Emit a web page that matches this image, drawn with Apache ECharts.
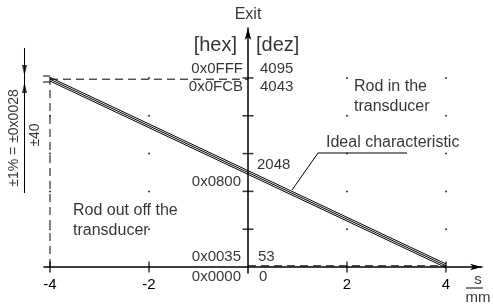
<!DOCTYPE html>
<html>
<head>
<meta charset="utf-8">
<script src="https://cdn.jsdelivr.net/npm/echarts@6/dist/echarts.min.js"></script>
<style>
  html, body { margin: 0; padding: 0; background: #fff; }
  #chart { width: 493px; height: 306px; }
</style>
</head>
<body>
<div id="chart"></div>
<script>
// travel s in mm vs. output value (0..4095)
const strokeS = [-4, 4];
const idealOut = [4069, 26];
const upperOut = [4109, 66];
const lowerOut = [4029, -14];
const xTicks = [-4, -2, 2, 4];
const yTicks = [819, 1638, 2457, 3276, 4095];
const tolBand = [4138, 4008];

const FONT = "Liberation Sans, Arial, sans-serif";
const INK = "#000";

const chart = echarts.init(document.getElementById("chart"), null, { renderer: "canvas" });

const seg = (ys) => strokeS.map((s, i) => [s, ys[i]]);
const plain = (data, extra) => Object.assign({
  type: "line", data, showSymbol: false, clip: false, silent: true,
  lineStyle: { color: INK, width: 1 }
}, extra || {});
const dashed = (data) => plain(data, { lineStyle: { color: INK, width: 1, type: [8, 5] } });

// text placed in data coordinates
const txt = (x, y, text, size, align, extra) => ({
  value: [x, y],
  label: Object.assign({
    show: true, formatter: text, position: "inside", align: align || "left",
    verticalAlign: "middle", fontSize: size, color: INK, fontFamily: FONT
  }, extra || {})
});

const labels = [
  txt(0, 5460, "Exit", 16, "center"),
  txt(-0.222, 4810, "[hex]", 20, "right"),
  txt(0.162, 4810, "[dez]", 20, "left"),
  txt(-0.101, 4290, "0x0FFF", 15, "right"),
  txt(-0.101, 3900, "0x0FCB", 15, "right"),
  txt(0.242, 4290, "4095", 15),
  txt(0.242, 3900, "4043", 15),
  txt(-0.141, 1842, "0x0800", 15, "right"),
  txt(0.182, 2210, "2048", 15),
  txt(-0.141, 217, "0x0035", 15, "right"),
  txt(0.202, 217, "53", 15),
  txt(-0.141, -217, "0x0000", 15, "right"),
  txt(0.222, -217, "0", 15),
  txt(2.141, 3900, "Rod in the", 16),
  txt(2.141, 3467, "transducer", 16),
  txt(1.576, 2687, "Ideal characteristic", 16),
  txt(-3.535, 1213, "Rod out off the", 16),
  txt(-3.535, 780, "transducer", 16),
  txt(4.646, -282, "s", 15, "center"),
  txt(4.646, -672, "mm", 15, "center"),
  txt(-4.727, 2795, "±1% = ±0x0028", 14, "center", { rotate: 90 }),
  txt(-4.303, 2860, "±40", 14, "center", { rotate: 90 })
];

const dots = [];
xTicks.forEach((x) => yTicks.forEach((y) => dots.push([x, y])));

// dimension line left of the chart, arrow heads point at the band
const dimX = -4.515;
const arrowHalf = 119; // half arrow length in output units (~5.5 px)

const X_MIN = -4.121, X_MAX = 4.727, Y_MIN = -130, Y_MAX = 5178;
const hiddenAxis = { show: false, splitLine: { show: false } };

chart.setOption({
  animation: false,
  grid: [
    { left: 44, right: 11, top: 28, bottom: 33 },
    // same scale, widened to the left edge for the dimensioning
    { left: 0, right: 11, top: 28, bottom: 33 }
  ],
  xAxis: [{
    type: "value", min: X_MIN, max: X_MAX,
    splitLine: { show: false },
    axisTick: { show: false },
    axisLine: { onZero: true, symbol: ["none", "arrow"], symbolSize: [5, 12], lineStyle: { color: INK, width: 1.5 } },
    axisLabel: {
      customValues: xTicks, color: INK, fontSize: 15, fontFamily: FONT, margin: 4,
      formatter: (v) => String(v)
    }
  }, Object.assign({ type: "value", gridIndex: 1, min: X_MIN - 44 / 49.5, max: X_MAX }, hiddenAxis)],
  yAxis: [{
    type: "value", min: Y_MIN, max: Y_MAX,
    splitLine: { show: false },
    axisTick: { show: false },
    axisLabel: { show: false },
    axisLine: { onZero: true, symbol: ["none", "arrow"], symbolSize: [5, 12], lineStyle: { color: INK, width: 1.5 } }
  }, Object.assign({ type: "value", gridIndex: 1, min: Y_MIN, max: Y_MAX }, hiddenAxis)],
  series: [
    plain(seg(upperOut)),
    plain(seg(idealOut)),
    plain(seg(lowerOut)),
    dashed([[strokeS[0], idealOut[0]], [0, idealOut[0]]]),
    dashed([[strokeS[0], 0], [strokeS[0], idealOut[0]]]),
    dashed([[0, idealOut[1]], [strokeS[1], idealOut[1]]]),
    // tolerance band marks at the left
    plain([[-4.687, tolBand[0]], [strokeS[0], tolBand[0]]]),
    plain([[-4.687, tolBand[1]], [strokeS[0], tolBand[1]]]),
    // fraction bar of s/mm
    plain([[4.404, -455], [4.889, -455]]),
    // leader line to the label
    plain([[0.889, 1668], [1.414, 2470], [3.212, 2470]]),
    plain([[dimX, 4745], [dimX, 1603]], { xAxisIndex: 1, yAxisIndex: 1 }),
    {
      type: "scatter", silent: true, clip: false, symbol: "triangle", symbolSize: [5, 11],
      itemStyle: { color: INK },
      data: [
        { value: [dimX, tolBand[0] + arrowHalf], symbolRotate: 180 },
        { value: [dimX, tolBand[1] - arrowHalf], symbolRotate: 0 }
      ]
    },
    {
      type: "scatter", silent: true, clip: false, symbol: "rect", symbolSize: [1.5, 11],
      itemStyle: { color: INK }, data: xTicks.map((x) => [x, 0])
    },
    {
      type: "scatter", silent: true, clip: false, symbol: "rect", symbolSize: [11, 1.5],
      itemStyle: { color: INK }, data: yTicks.map((y) => [0, y])
    },
    {
      type: "scatter", silent: true, clip: false, symbolSize: 2,
      itemStyle: { color: INK }, data: dots
    },
    {
      type: "scatter", silent: true, clip: false, symbolSize: 0,
      itemStyle: { color: "transparent" }, data: labels
    }
  ]
});
</script>
</body>
</html>
